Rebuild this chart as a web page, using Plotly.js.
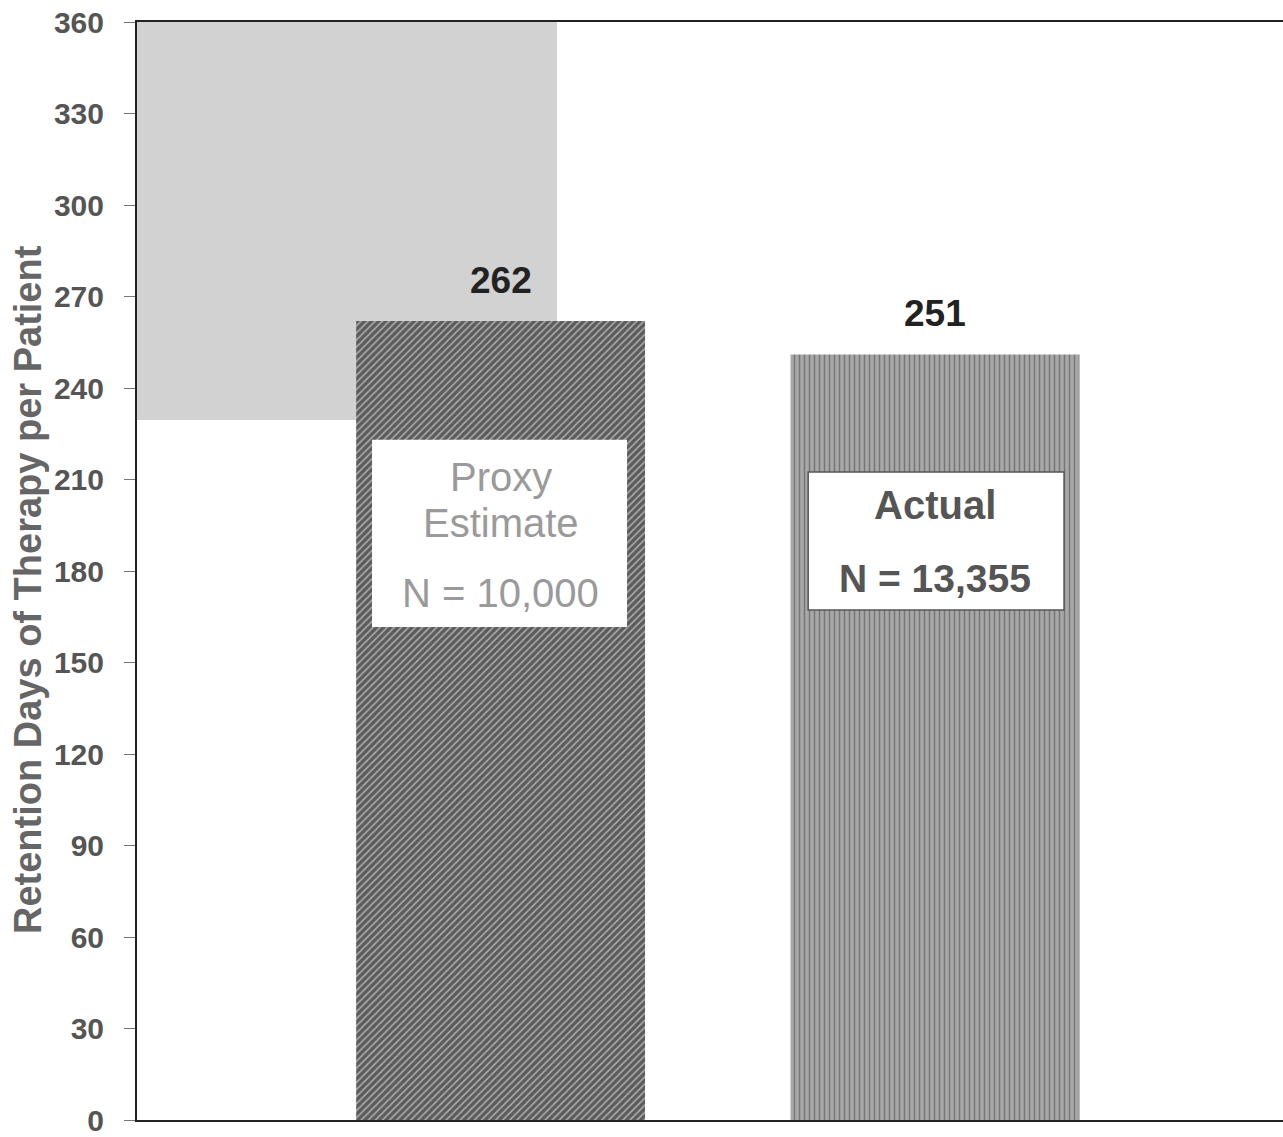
<!DOCTYPE html>
<html>
<head>
<meta charset="utf-8">
<script src="https://cdn.plot.ly/plotly-3.0.1.min.js"></script>
<style>html,body{margin:0;padding:0;background:#fff;}#chart{width:1283px;height:1137px;}</style>
</head>
<body>
<div id="chart"></div>
<script>
// ---- data ----
const categories = ["Proxy Estimate", "Actual"];
const retentionDays = [262, 251];
const sampleLabels = ["N = 10,000", "N = 13,355"];
const groupLines = [["Proxy", "Estimate"], ["Actual"]];
const yTicks = [0, 30, 60, 90, 120, 150, 180, 210, 240, 270, 300, 330, 360];
const yTitle = "Retention Days of Therapy per Patient";

const FONT = "Arial, 'Liberation Sans', sans-serif";

const trace = {
  type: "bar",
  x: categories,
  y: retentionDays,
  width: 0.665,
  marker: {
    color: ["#5c5c5c", "#a8a8a8"],
    line: {width: 0},
    pattern: {
      shape: ["/", "|"],
      fgcolor: ["#6e6e6e", "#8c8c8c"],
      size: 5,
      solidity: 0.3,
      fillmode: "overlay"
    }
  },
  hoverinfo: "x+y"
};

const annotations = [];
// value labels
categories.forEach((c, i) => {
  annotations.push({
    x: i, y: retentionDays[i], xref: "x", yref: "y",
    text: "<b>" + retentionDays[i] + "</b>",
    showarrow: false, yanchor: "bottom", yshift: 18,
    font: {family: FONT, size: 37, color: "#222"}
  });
});
// proxy box text
annotations.push({x: 0, y: 210.8, xref: "x", yref: "y", text: groupLines[0][0], showarrow: false,
  font: {family: FONT, size: 40, color: "#9a9a9a"}});
annotations.push({x: 0, y: 195.7, xref: "x", yref: "y", text: groupLines[0][1], showarrow: false,
  font: {family: FONT, size: 40, color: "#9a9a9a"}});
annotations.push({x: 0, y: 172.8, xref: "x", yref: "y", text: sampleLabels[0], showarrow: false,
  font: {family: FONT, size: 40, color: "#9a9a9a"}});
// actual box text
annotations.push({x: 1, y: 201.6, xref: "x", yref: "y", text: "<b>" + groupLines[1][0] + "</b>", showarrow: false,
  font: {family: FONT, size: 40, color: "#555"}});
annotations.push({x: 1, y: 177.7, xref: "x", yref: "y", text: "<b>" + sampleLabels[1] + "</b>", showarrow: false,
  font: {family: FONT, size: 39, color: "#555"}});
// y-axis title (placed as rotated annotation to match position)
annotations.push({x: -0.0951, y: 0.4827, xref: "paper", yref: "paper", text: "<b>" + yTitle + "</b>",
  textangle: -90, showarrow: false, xanchor: "center", yanchor: "middle",
  font: {family: FONT, size: 38, color: "#666"}});

const shapes = [
  // scanned gray patch in the top-left corner
  {type: "rect", xref: "paper", yref: "paper", x0: 0, x1: 0.3665, y0: 0.6375, y1: 1,
   fillcolor: "#d2d2d2", line: {width: 0}, layer: "below"},
  // label boxes
  {type: "rect", xref: "x", yref: "y", x0: -0.296, x1: 0.291, y0: 161.6, y1: 223,
   fillcolor: "#ffffff", line: {width: 0}, layer: "above"},
  {type: "rect", xref: "x", yref: "y", x0: 0.708, x1: 1.297, y0: 167.2, y1: 212.5,
   fillcolor: "#ffffff", line: {width: 1.5, color: "#555"}, layer: "above"}
];

const layout = {
  width: 1283, height: 1137,
  margin: {l: 137, r: 0, t: 22, b: 17},
  paper_bgcolor: "#ffffff", plot_bgcolor: "rgba(0,0,0,0)",
  showlegend: false,
  xaxis: {
    type: "category",
    range: [-0.837, 1.801],
    showticklabels: false, ticks: "",
    showline: true, mirror: true, linecolor: "#222", linewidth: 2,
    showgrid: false, zeroline: false
  },
  yaxis: {
    range: [0, 360],
    tickvals: yTicks,
    ticks: "outside", ticklen: 11, tickcolor: "#777", tickwidth: 1,
    ticklabelstandoff: 14,
    ticklabeloverflow: "allow",
    tickfont: {family: FONT, size: 30, color: "#555", weight: "bold"},
    showline: true, linecolor: "#222", linewidth: 2,
    showgrid: false, zeroline: false,
    automargin: false
  },
  annotations: annotations,
  shapes: shapes
};

Plotly.newPlot("chart", [trace], layout, {displayModeBar: false, staticPlot: true});
</script>
</body>
</html>
